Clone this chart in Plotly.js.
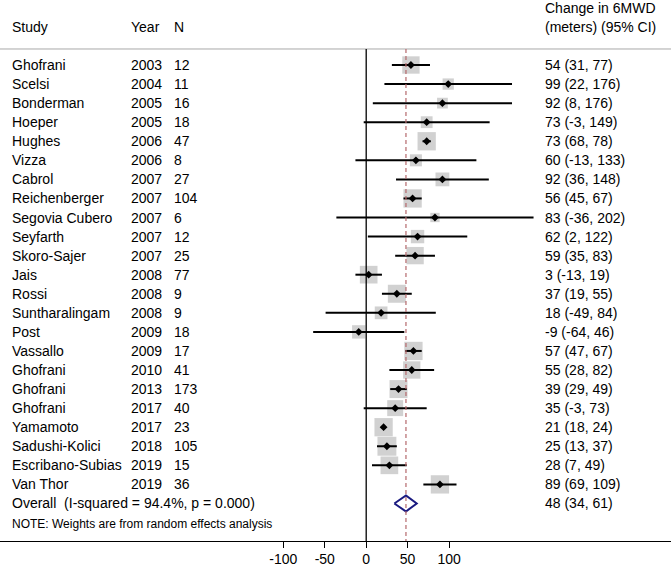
<!DOCTYPE html>
<html>
<head>
<meta charset="utf-8">
<script src="https://cdn.plot.ly/plotly-3.0.1.min.js"></script>
<style>html,body{margin:0;padding:0;background:#fff;}#chart{width:671px;height:566px;}</style>
</head>
<body>
<div id="chart"></div>
<script>
// ---- data ----
const studies = ["Ghofrani","Scelsi","Bonderman","Hoeper","Hughes","Vizza","Cabrol","Reichenberger","Segovia Cubero","Seyfarth","Skoro-Sajer","Jais","Rossi","Suntharalingam","Post","Vassallo","Ghofrani","Ghofrani","Ghofrani","Yamamoto","Sadushi-Kolici","Escribano-Subias","Van Thor"];
const years = [2003,2004,2005,2005,2006,2006,2007,2007,2007,2007,2007,2008,2008,2008,2009,2009,2010,2013,2017,2017,2018,2019,2019];
const ns = [12,11,16,18,47,8,27,104,6,12,25,77,9,9,18,17,41,173,40,23,105,15,36];
const est = [54,99,92,73,73,60,92,56,83,62,59,3,37,18,-9,57,55,39,35,21,25,28,89];
const lo = [31,22,8,-3,68,-13,36,45,-36,2,35,-13,19,-49,-64,47,28,29,-3,18,13,7,69];
const hi = [77,176,176,149,78,133,148,67,202,122,83,19,55,84,46,67,82,49,73,24,37,49,109];
const weights = [5.2,2.2,2.0,2.4,5.8,2.5,3.3,5.8,1.5,3.1,5.2,5.4,5.6,2.8,3.1,5.8,5.2,5.6,4.4,5.8,6.2,5.4,5.8];
const overall = {est:48, lo:34, hi:61, label:"Overall\u00a0\u00a0(I-squared = 94.4%, p = 0.000)"};
const headers = {study:"Study", year:"Year", n:"N", effect1:"Change in 6MWD", effect2:"(meters) (95% CI)"};
const note = "NOTE: Weights are from random effects analysis";
const xTicks = [-100,-50,0,50,100];

// ---- layout constants ----
const W = 671, H = 566;
const FONT = "Liberation Sans, Arial, Helvetica, sans-serif";
const rows = studies.map((_, i) => i);
const overallRow = studies.length;
const noteRow = overallRow + 1.1;
const headerLineRow = -0.84;
const px = v => v / W;

// ---- traces ----
const ciX = [], ciY = [];
rows.forEach(i => { ciX.push(lo[i], hi[i], null); ciY.push(i, i, null); });

const traces = [
  { type:"scatter", mode:"markers", x:est, y:rows, hoverinfo:"skip",
    marker:{symbol:"square", color:"#bdbdbd", size:weights.map(w => 7.6*Math.sqrt(w)), line:{width:0}} },
  { type:"scatter", mode:"lines", x:ciX, y:ciY, hoverinfo:"skip",
    line:{color:"#000", width:2} },
  { type:"scatter", mode:"markers", x:est, y:rows, hoverinfo:"skip",
    marker:{symbol:"diamond", color:"#000", size:6, line:{width:0}} },
  { type:"scatter", mode:"lines", hoverinfo:"skip",
    x:[overall.lo, overall.est, overall.hi, overall.est, overall.lo],
    y:[overallRow, overallRow-0.42, overallRow, overallRow+0.42, overallRow],
    line:{color:"#1a1a80", width:2} }
];

// ---- annotations (table text) ----
const ann = [];
function txt(x, y, t, size) {
  ann.push({xref:"paper", yref:"y", x:px(x), y:y, text:t, showarrow:false, xanchor:"left", yanchor:"middle",
    font:{family:FONT, size:size||14, color:"#000"}});
}
txt(10, -2, headers.study); txt(129, -2, headers.year); txt(172, -2, headers.n);
txt(543, -3, headers.effect1); txt(543, -2, headers.effect2);
rows.forEach(i => {
  txt(10, i, studies[i]); txt(129, i, String(years[i])); txt(172, i, String(ns[i]));
  txt(543, i, `${est[i]} (${lo[i]}, ${hi[i]})`);
});
txt(10, overallRow, overall.label);
txt(543, overallRow, `${overall.est} (${overall.lo}, ${overall.hi})`);
txt(10, noteRow, note, 12);

// ---- shapes ----
const shapes = [
  {type:"line", xref:"paper", yref:"y", x0:0, x1:1, y0:headerLineRow, y1:headerLineRow, line:{color:"#a8a8a8", width:1}},
  {type:"line", xref:"x", yref:"y", x0:0, x1:0, y0:headerLineRow, y1:24.97, line:{color:"#000", width:1.3}},
  {type:"line", xref:"x", yref:"y", x0:overall.est, x1:overall.est, y0:headerLineRow, y1:24.97, line:{color:"#b5686c", width:1.2, dash:"4px,3px"}}
];

const layout = {
  width:W, height:H, margin:{l:0, r:0, t:0, b:25, pad:0},
  paper_bgcolor:"#fff", plot_bgcolor:"#fff", showlegend:false,
  font:{family:FONT, size:14, color:"#000"},
  xaxis:{range:[-442, 367.9], showgrid:false, zeroline:false, showline:true, linecolor:"#000", linewidth:1,
    ticks:"outside", ticklen:6, tickwidth:1, tickcolor:"#000", tickvals:xTicks, ticktext:xTicks.map(String),
    ticklabelstandoff:-1,
    tickfont:{family:FONT, size:14, color:"#000"}, fixedrange:true},
  yaxis:{range:[24.97, -3.41], visible:false, showgrid:false, zeroline:false, fixedrange:true},
  shapes:shapes, annotations:ann
};

Plotly.newPlot("chart", traces, layout, {displayModeBar:false, staticPlot:true});
</script>
</body>
</html>
